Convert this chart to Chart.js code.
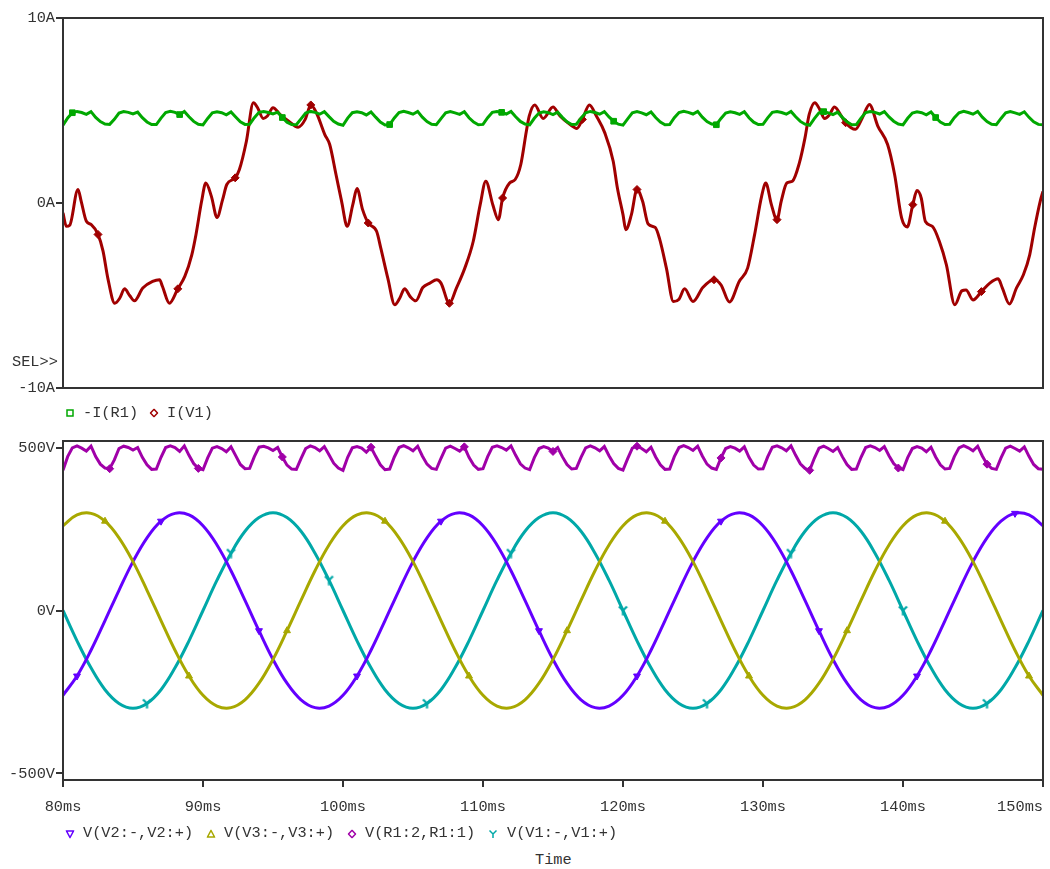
<!DOCTYPE html>
<html>
<head>
<meta charset="utf-8">
<script src="https://cdn.jsdelivr.net/npm/chart.js@4.4.0/dist/chart.umd.min.js"></script>
<style>
body { margin:0; background:#fff; width:1050px; height:869px; position:relative; overflow:hidden;
       font-family:"Liberation Mono", monospace; color:#333; }
.box { position:absolute; left:0; width:1050px; }
.txt { position:absolute; font-size:15.3px; white-space:pre; line-height:16px; transform:translateY(-50%); }
.mk { position:absolute; transform:translate(-50%,-50%); }
</style>
</head>
<body>
<div class="box" style="top:0;height:400px"><canvas id="cTop"></canvas></div>
<div class="box" style="top:420px;height:420px"><canvas id="cBot"></canvas></div>

<div class="txt" style="left:12px;top:362px">SEL&gt;&gt;</div>

<!-- legend top -->
<svg class="mk" style="left:70px;top:413px" width="8" height="8"><rect x="1" y="1" width="6" height="6" fill="none" stroke="#00a800" stroke-width="1.5"/></svg>
<div class="txt" style="left:83px;top:413px">-I(R1)</div>
<svg class="mk" style="left:154px;top:413px" width="9" height="9"><path d="M4.5 0.8 L8 4.5 L4.5 8.2 L1 4.5 Z" fill="none" stroke="#a00000" stroke-width="1.5"/></svg>
<div class="txt" style="left:167px;top:413px">I(V1)</div>

<!-- legend bottom -->
<svg class="mk" style="left:70px;top:834px" width="9" height="9"><path d="M1 1.5 L8 1.5 L4.5 8 Z" fill="none" stroke="#6400ff" stroke-width="1.5"/></svg>
<div class="txt" style="left:83px;top:833px">V(V2:-,V2:+)</div>
<svg class="mk" style="left:211px;top:834px" width="9" height="9"><path d="M1 7.5 L8 7.5 L4.5 1 Z" fill="none" stroke="#a8a800" stroke-width="1.5"/></svg>
<div class="txt" style="left:224px;top:833px">V(V3:-,V3:+)</div>
<svg class="mk" style="left:352px;top:834px" width="9" height="9"><path d="M4.5 0.8 L8 4.5 L4.5 8.2 L1 4.5 Z" fill="none" stroke="#a000a8" stroke-width="1.5"/></svg>
<div class="txt" style="left:365px;top:833px">V(R1:2,R1:1)</div>
<svg class="mk" style="left:493px;top:834px" width="9" height="9"><path d="M1 1 L4.5 4.5 L8 1 M4.5 4.5 L4.5 8.5" fill="none" stroke="#00a8a8" stroke-width="1.5"/></svg>
<div class="txt" style="left:507px;top:833px">V(V1:-,V1:+)</div>

<div class="txt" style="left:535px;top:860px">Time</div>

<script>
// ---- data (time in ms) ----
// sine sources, 1 ms step from 80 ms to 150 ms
const vV1 = [0, -93, -176, -243, -285, -300, -285, -243, -176, -93, 0, 93, 176, 243, 285, 300, 285, 243, 176, 93,
             0, -93, -176, -243, -285, -300, -285, -243, -176, -93, 0, 93, 176, 243, 285, 300, 285, 243, 176, 93,
             0, -93, -176, -243, -285, -300, -285, -243, -176, -93, 0, 93, 176, 243, 285, 300, 285, 243, 176, 93,
             0, -93, -176, -243, -285, -300, -285, -243, -176, -93, 0];
const vV2 = [-260, -201, -122, -31, 62, 150, 223, 274, 298, 293, 260, 201, 122, 31, -62, -150, -223, -274, -298, -293,
             -260, -201, -122, -31, 62, 150, 223, 274, 298, 293, 260, 201, 122, 31, -62, -150, -223, -274, -298, -293,
             -260, -201, -122, -31, 62, 150, 223, 274, 298, 293, 260, 201, 122, 31, -62, -150, -223, -274, -298, -293,
             -260, -201, -122, -31, 62, 150, 223, 274, 298, 293, 260];
const vV3 = [260, 293, 298, 274, 223, 150, 62, -31, -122, -201, -260, -293, -298, -274, -223, -150, -62, 31, 122, 201,
             260, 293, 298, 274, 223, 150, 62, -31, -122, -201, -260, -293, -298, -274, -223, -150, -62, 31, 122, 201,
             260, 293, 298, 274, 223, 150, 62, -31, -122, -201, -260, -293, -298, -274, -223, -150, -62, 31, 122, 201,
             260, 293, 298, 274, 223, 150, 62, -31, -122, -201, -260];

// rectified output voltage and load current, 1/3 ms step
const vR1 = [
  430, 472, 499, 505, 498, 489, 504, 472, 449, 437,
  435, 462, 497, 504, 500, 492, 500, 470, 447, 433,
  434, 470, 500, 505, 500, 488, 505, 476, 451, 436,
  432, 468, 498, 503, 497, 487, 502, 475, 448, 435,
  436, 472, 501, 504, 499, 491, 500, 471, 446, 434,
  433, 466, 497, 505, 500, 490, 503, 478, 452, 437,
  430, 470, 499, 503, 498, 486, 501, 473, 447, 432,
  434, 471, 500, 506, 499, 490, 504, 474, 449, 436,
  433, 467, 498, 504, 497, 489, 502, 470, 446, 433,
  435, 472, 501, 505, 500, 492, 505, 476, 450, 437,
  432, 469, 497, 503, 498, 488, 500, 472, 448, 434,
  436, 470, 499, 505, 499, 490, 503, 475, 451, 436,
  431, 466, 498, 504, 497, 487, 501, 471, 447, 433,
  434, 472, 500, 506, 500, 491, 504, 474, 449, 437,
  433, 468, 497, 503, 498, 489, 502, 470, 446, 434,
  435, 471, 501, 505, 499, 490, 505, 476, 450, 436,
  430, 467, 498, 504, 497, 488, 500, 472, 448, 433,
  434, 470, 500, 505, 500, 491, 503, 475, 451, 437,
  432, 469, 497, 503, 498, 487, 501, 471, 447, 434,
  436, 472, 499, 506, 499, 490, 504, 474, 449, 436,
  433, 468, 498, 504, 497, 489, 502, 473, 448, 435,
  433];
const iR1 = [
  4.20, 4.60, 4.88, 4.95, 4.89, 4.79, 4.94, 4.63, 4.40, 4.27,
  4.25, 4.52, 4.86, 4.94, 4.90, 4.81, 4.91, 4.61, 4.38, 4.24,
  4.24, 4.59, 4.89, 4.96, 4.90, 4.78, 4.95, 4.66, 4.41, 4.26,
  4.22, 4.57, 4.87, 4.93, 4.88, 4.77, 4.92, 4.65, 4.39, 4.25,
  4.26, 4.61, 4.90, 4.94, 4.89, 4.81, 4.91, 4.62, 4.37, 4.24,
  4.23, 4.55, 4.86, 4.95, 4.90, 4.80, 4.94, 4.67, 4.42, 4.27,
  4.20, 4.59, 4.88, 4.93, 4.88, 4.76, 4.92, 4.64, 4.38, 4.22,
  4.24, 4.60, 4.89, 4.96, 4.89, 4.80, 4.95, 4.64, 4.40, 4.26,
  4.23, 4.56, 4.87, 4.94, 4.87, 4.79, 4.93, 4.61, 4.37, 4.23,
  4.25, 4.61, 4.90, 4.95, 4.90, 4.81, 4.95, 4.66, 4.41, 4.27,
  4.22, 4.58, 4.86, 4.93, 4.88, 4.78, 4.91, 4.63, 4.39, 4.24,
  4.26, 4.59, 4.88, 4.95, 4.89, 4.80, 4.94, 4.65, 4.42, 4.26,
  4.21, 4.55, 4.87, 4.94, 4.87, 4.77, 4.92, 4.62, 4.38, 4.23,
  4.24, 4.61, 4.89, 4.96, 4.90, 4.81, 4.95, 4.64, 4.40, 4.27,
  4.23, 4.57, 4.86, 4.93, 4.88, 4.79, 4.93, 4.61, 4.37, 4.24,
  4.25, 4.60, 4.90, 4.95, 4.89, 4.80, 4.95, 4.66, 4.41, 4.26,
  4.20, 4.56, 4.87, 4.94, 4.87, 4.78, 4.91, 4.63, 4.39, 4.23,
  4.24, 4.59, 4.89, 4.95, 4.90, 4.81, 4.94, 4.65, 4.42, 4.27,
  4.22, 4.58, 4.86, 4.93, 4.88, 4.77, 4.92, 4.62, 4.38, 4.24,
  4.26, 4.61, 4.88, 4.96, 4.89, 4.80, 4.95, 4.64, 4.40, 4.26,
  4.23, 4.57, 4.87, 4.94, 4.87, 4.79, 4.93, 4.63, 4.39, 4.25,
  4.23];

// source current I(V1), read at uneven times
const tIV1 = [80.0, 80.24, 80.48, 81.07, 81.3, 81.67, 82.02, 82.5, 82.86, 83.2, 83.7, 84.05, 84.4, 84.76, 85.1, 85.7,
  86.4, 86.9, 87.1, 87.6, 88.2, 88.7, 89.2, 89.5, 89.9, 90.2, 90.6, 91.0, 91.4, 91.7, 92.3, 92.6, 93.1, 93.6, 93.9,
  94.3, 94.6, 95.0, 95.5, 96.1, 96.8, 97.3, 97.7, 98.1, 98.7, 99.05, 99.5, 99.9, 100.3, 100.7, 101.0, 101.4, 101.8,
  102.4, 102.7, 103.2, 103.7, 104.05, 104.4, 104.8, 105.2, 105.7, 106.2, 106.7, 107.0, 107.6, 108.1, 108.7, 109.3,
  109.8, 110.2, 110.7, 111.1, 111.4, 111.9, 112.3, 112.7, 113.1, 113.3, 113.7, 114.3, 115.0, 115.5, 116.2, 116.7,
  117.1, 117.6, 118.1, 118.7, 119.3, 119.6, 120.0, 120.2, 120.6, 121.0, 121.4, 121.8, 122.3, 122.6, 123.1, 123.6,
  124.0, 124.4, 125.0, 125.7, 126.5, 127.0, 127.6, 128.3, 128.9, 129.4, 129.9, 130.2, 130.6, 131.0, 131.3, 131.7,
  132.1, 132.6, 133.0, 133.3, 133.7, 134.05, 134.4, 134.76, 135.1, 135.6, 135.9, 136.6, 137.1, 137.6, 138.2, 138.9,
  139.4, 139.9, 140.3, 140.7, 141.0, 141.3, 141.6, 142.1, 142.6, 143.1, 143.7, 144.2, 144.5, 145.0, 145.6, 146.2,
  146.8, 147.1, 147.6, 148.1, 148.6, 149.05, 149.4, 149.8, 150.0];
const iV1 = [-0.54, -1.26, -1.2, 0.73, 0.09, -0.99, -1.17, -1.7, -2.6, -4.06, -5.42, -5.15, -4.64, -5.0, -5.29, -4.6,
  -4.24, -4.15, -4.5, -5.42, -4.64, -3.97, -2.8, -1.7, 0.09, 1.08, 0.36, -0.78, 0.18, 1.0, 1.36, 1.81, 3.34, 5.42, 5.15,
  4.57, 4.7, 5.15, 4.79, 4.43, 4.1, 4.52, 5.3, 4.88, 3.7, 3.16, 1.54, 0.09, -1.26, -0.09, 0.78, -0.36, -1.08,
  -1.53, -2.44, -4.06, -5.5, -5.15, -4.64, -5.06, -5.29, -4.57, -4.33, -4.15, -4.33, -5.42, -4.6, -3.52, -2.08,
  -0.09, 1.18, -0.09, -0.9, 0.27, 1.08, 1.27, 2.08, 3.89, 4.7, 5.3, 4.57, 5.19, 4.7, 4.25, 4.03,
  4.52, 5.3, 4.7, 3.79, 2.26, 0.81, -0.63, -1.44, -0.63, 0.73, 0.09, -1.14, -1.32, -1.9, -3.52, -5.33,
  -5.2, -4.64, -5.33, -4.57, -4.15, -4.42, -5.35, -4.24, -3.52, -1.71, 0.36, 1.08, -0.09, -0.9, 0.09, 1.08,
  1.18, 2.17, 3.52, 4.79, 5.42, 5.06, 4.57, 4.79, 5.19, 4.7, 4.34, 3.98, 4.61, 5.33, 4.16, 3.16,
  1.54, -0.81, -1.3, -0.09, 0.67, 0.27, -1.0, -1.26, -2.08, -3.34, -5.5, -4.75, -4.7, -5.24, -4.79, -4.33,
  -4.1, -4.6, -5.46, -4.6, -3.88, -2.8, -1.35, 0.09, 0.63];

// where each trace carries its symbol
const markV1 = [6, 12, 19, 26, 32, 40, 46, 52, 60, 66];
const markV2 = [1, 7, 14, 21, 27, 34, 41, 47, 54, 61, 68];
const markV3 = [3, 9, 16, 23, 29, 36, 43, 49, 56, 63, 69];
const markVR1 = [10, 29, 47, 66, 86, 105, 123, 141, 160, 179, 198];
const markIR1 = [2, 25, 47, 70, 94, 118, 140, 163, 187];
const markIV1 = [82.5, 88.2, 92.3, 97.7, 101.8, 107.6, 111.4, 117.1, 121.0, 126.5, 131.0, 135.9, 140.7, 145.6];

const xTicks = [80, 90, 100, 110, 120, 130, 140, 150];
const xTickLabels = ['80ms', '90ms', '100ms', '110ms', '120ms', '130ms', '140ms', '150ms     '];
const yTicksTop = [-10, 0, 10];
const yTicksBot = [-500, 0, 500];

// ---- build ----
const t1ms = vV1.map((v, i) => 80 + i);
const t3 = vR1.map((v, i) => 80 + i / 3);
const pts = (ts, vs) => vs.map((v, i) => ({ x: ts[i], y: v }));

const FONT = { family: '"Liberation Mono", monospace', size: 15.3 };
const INK = '#333';

const frame = {
  id: 'frame',
  afterDatasetsDraw(chart) {
    const { ctx, chartArea: a } = chart;
    ctx.save();
    ctx.strokeStyle = INK;
    ctx.lineWidth = 2;
    ctx.strokeRect(a.left, a.top, a.right - a.left, a.bottom - a.top);
    ctx.restore();
  }
};

// Y marker for V(V1)
function yMark(color) {
  const c = document.createElement('canvas');
  c.width = 11; c.height = 11;
  const g = c.getContext('2d');
  g.strokeStyle = color; g.lineWidth = 2.2;
  g.beginPath();
  g.moveTo(1.5, 1.5); g.lineTo(5.5, 5.5); g.lineTo(9.5, 1.5);
  g.moveTo(5.5, 5.5); g.lineTo(5.5, 10.5);
  g.stroke();
  return c;
}

function trace(label, data, color, marks, style, extra) {
  return Object.assign({
    label, data,
    borderColor: color, backgroundColor: color,
    borderWidth: 3,
    pointStyle: style,
    pointRadius: c => marks.includes(c.dataIndex) ? 4 : 0,
    pointHoverRadius: 0,
    pointBorderWidth: 1,
    tension: 0
  }, extra || {});
}

function yAxis(ticks, unit, min, max) {
  return {
    min, max,
    afterFit: s => { s.width = 63; },
    afterBuildTicks: s => { s.ticks = ticks.map(v => ({ value: v })); },
    ticks: { callback: v => v + unit, font: FONT, color: INK, padding: 1 },
    grid: { drawOnChartArea: false, tickLength: 7, color: INK, lineWidth: 2 },
    border: { display: false }
  };
}

const common = {
  responsive: true,
  maintainAspectRatio: false,
  animation: false,
  events: [],
  plugins: { legend: { display: false }, tooltip: { enabled: false } }
};

new Chart(document.getElementById('cTop'), {
  type: 'line',
  data: {
    datasets: [
      trace('-I(R1)', pts(t3, iR1), '#00a800', markIR1, 'rect'),
      trace('I(V1)', pts(tIV1, iV1), '#a00000', [], 'rectRot', {
        cubicInterpolationMode: 'monotone',
        pointRadius: c => markIV1.includes(tIV1[c.dataIndex]) ? 4 : 0
      })
    ]
  },
  options: Object.assign({}, common, {
    layout: { padding: { top: 18, right: 7, bottom: 12, left: 0 } },
    scales: {
      x: { type: 'linear', min: 80, max: 150, display: false },
      y: yAxis(yTicksTop, 'A', -10, 10)
    }
  }),
  plugins: [frame]
});

new Chart(document.getElementById('cBot'), {
  type: 'line',
  data: {
    datasets: [
      trace('V(R1:2,R1:1)', pts(t3, vR1), '#a000a8', markVR1, 'rectRot'),
      trace('V(V3:-,V3:+)', pts(t1ms, vV3), '#a8a800', markV3, 'triangle', { tension: 0.4 }),
      trace('V(V2:-,V2:+)', pts(t1ms, vV2), '#6400ff', markV2, 'triangle', { tension: 0.4, pointRotation: 180 }),
      trace('V(V1:-,V1:+)', pts(t1ms, vV1), '#00a8a8', markV1, yMark('#00a8a8'), { tension: 0.4 })
    ]
  },
  options: Object.assign({}, common, {
    layout: { padding: { top: 21, right: 7, bottom: 15, left: 0 } },
    scales: {
      x: {
        type: 'linear', min: 80, max: 150,
        afterBuildTicks: s => { s.ticks = xTicks.map(v => ({ value: v })); },
        afterFit: s => { s.height = 45; s.paddingLeft = 0; s.paddingRight = 0; },
        ticks: {
          callback: v => xTickLabels[xTicks.indexOf(v)],
          font: FONT, color: INK, padding: 11, maxRotation: 0, autoSkip: false
        },
        grid: { drawOnChartArea: false, tickLength: 7, color: INK, lineWidth: 2 },
        border: { display: false }
      },
      y: yAxis(yTicksBot, 'V', -520, 520)
    }
  }),
  plugins: [frame]
});
</script>
</body>
</html>
